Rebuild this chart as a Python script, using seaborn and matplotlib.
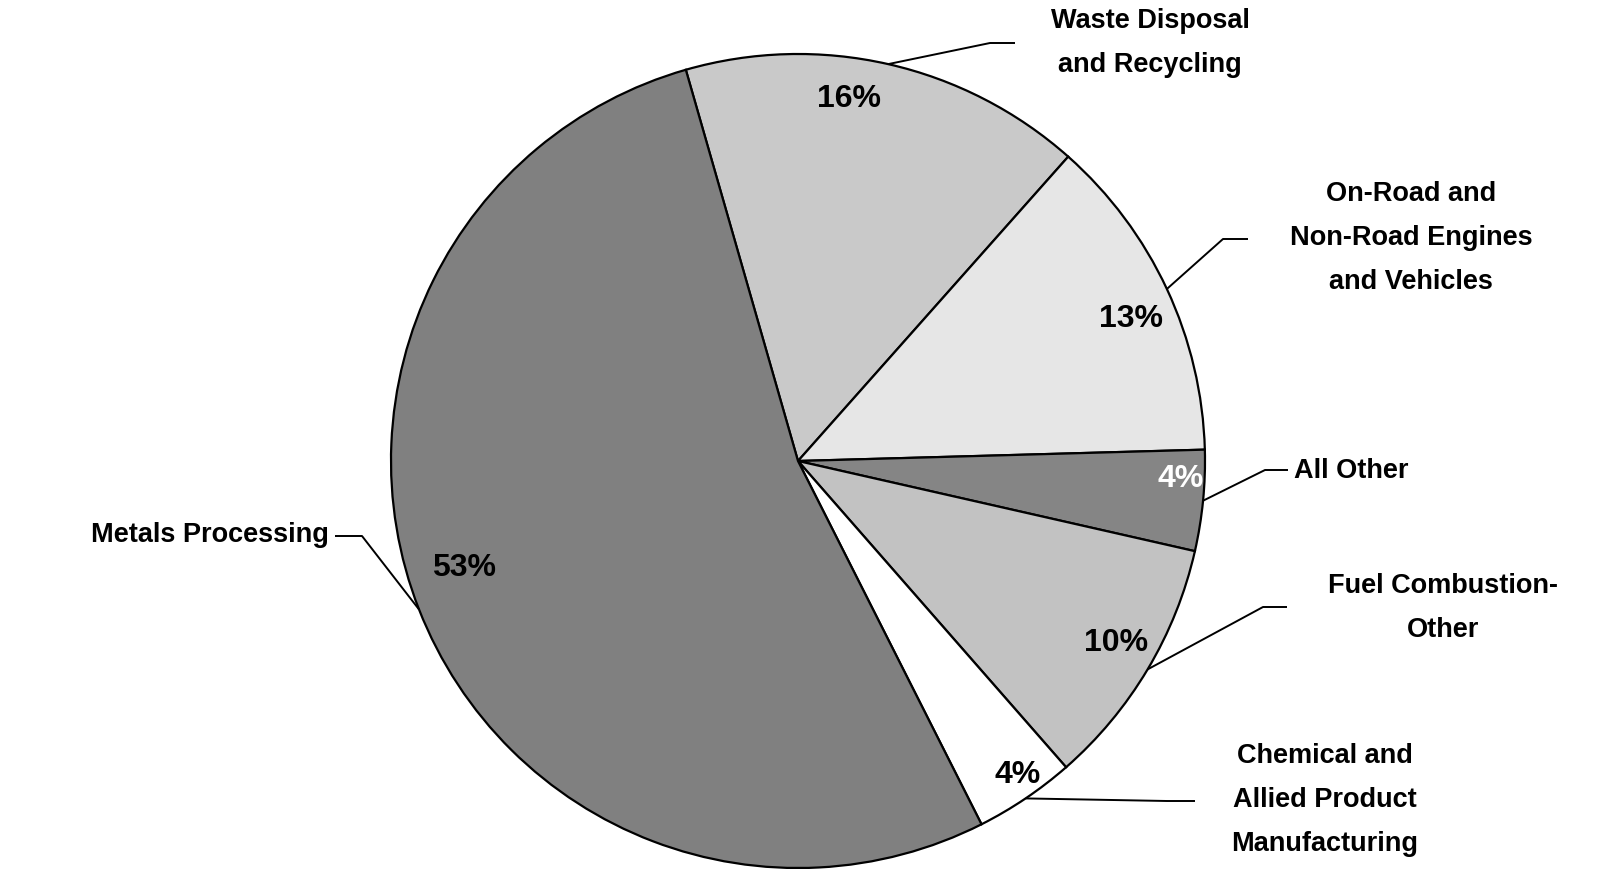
import numpy as np
import matplotlib
matplotlib.use("Agg")
import matplotlib.pyplot as plt
import seaborn as sns

# Emission shares by source category (percent), clockwise from the top
categories = [
    "Waste Disposal\nand Recycling",
    "On-Road and\nNon-Road Engines\nand Vehicles",
    "All Other",
    "Fuel Combustion-\nOther",
    "Chemical and\nAllied Product\nManufacturing",
    "Metals Processing",
]
shares = [16, 13, 4, 10, 4, 53]
pct_labels = ["16%", "13%", "4%", "10%", "4%", "53%"]

# Styling
wedge_colors = ["#c9c9c9", "#e6e6e6", "#858585", "#c2c2c2", "#ffffff", "#808080"]
pct_colors = ["black", "black", "white", "black", "black", "black"]

sns.set_theme(style="white")
plt.rcParams["font.family"] = ["Liberation Sans", "DejaVu Sans"]

W, H = 1606, 870
fig = plt.figure(figsize=(W / 100, H / 100), dpi=100)
ax = fig.add_axes([0, 0, 1, 1])

cx, cy, R = 798, 408, 407
wedges, _ = ax.pie(
    shares,
    colors=wedge_colors,
    startangle=106,
    counterclock=False,
    center=(cx, cy),
    radius=R,
    frame=True,
    wedgeprops=dict(edgecolor="black", linewidth=1.6),
)
ax.set_xlim(0, W)
ax.set_ylim(0, H)
ax.set_aspect("equal")
ax.set_axis_off()

# Percentage labels: (angle in degrees, fraction of radius)
pct_pos = [(82, 0.90), (23.2, 0.89), (-2.5, 0.94), (-29.6, 0.90), (-55, 0.94), (197.6, 0.86)]
for txt, col, (ang, rf) in zip(pct_labels, pct_colors, pct_pos):
    a = np.deg2rad(ang)
    ax.text(cx + rf * R * np.cos(a), cy + rf * R * np.sin(a), txt,
            ha="center", va="center", fontsize=23, fontweight="bold",
            color=col)

# Category labels with leader lines (elbow point, end point, text anchor, alignment)
label_layout = [
    ((990, 826), (1015, 826), (1150, 827), "center"),
    ((1223, 630), (1248, 630), (1411, 632), "center"),
    ((1265, 399), (1288, 399), (1294, 399), "left"),
    ((1263, 262), (1287, 262), (1443, 262), "center"),
    ((1167, 68), (1195, 68), (1325, 70), "center"),
    ((362, 333), (335, 333), (329, 335), "right"),
]
for w, name, (elbow, end, anchor, ha) in zip(wedges, categories, label_layout):
    mid = np.deg2rad((w.theta1 + w.theta2) / 2)
    sx, sy = cx + R * np.cos(mid), cy + R * np.sin(mid)
    ax.plot([sx, elbow[0], end[0]], [sy, elbow[1], end[1]],
            color="black", linewidth=1.4, solid_capstyle="butt")
    ax.text(anchor[0], anchor[1], name, ha=ha, va="center",
            multialignment="center", fontsize=19.5, fontweight="bold",
            linespacing=1.9, color="black")

fig.savefig("out.png", dpi=100, facecolor="white")
